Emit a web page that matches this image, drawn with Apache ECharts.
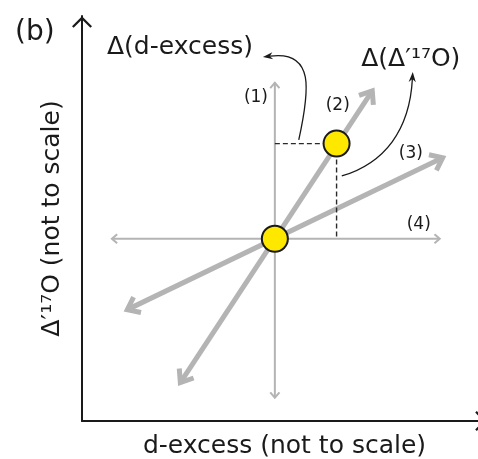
<!DOCTYPE html>
<html>
<head>
<meta charset="utf-8">
<script src="https://cdn.jsdelivr.net/npm/echarts@6/dist/echarts.min.js"></script>
<style>
  html, body { margin: 0; padding: 0; background: #ffffff; }
  #chart { width: 478px; height: 459px; }
</style>
</head>
<body>
<div id="chart"></div>
<script>
// Schematic space: d-excess runs -10..11, Δ′17O runs -9..11, start state at the origin.
const startPoint = [0, 0];
const shiftedPoint = [3.2, 4.7];

// Double-headed trajectory arrows, [x1, y1, x2, y2]
const thinArrows = [
  [0, -7.85, 0, 7.7],        // (1) Δ′17O only
  [-8.45, 0, 8.55, 0]        // (4) d-excess only
];
const thickArrows = [
  [-4.9, -7.1, 5.05, 7.3],   // (2)
  [-7.65, -3.5, 8.7, 4.0]    // (3)
];

// Dashed projections of the shifted state onto the two reference lines
const guides = [
  [0, 4.7, 3.2, 4.7],
  [3.2, 4.7, 3.2, 0]
];

// Cubic callouts: start, control 1, control 2, tip
const callouts = [
  [1.24, 4.88, 1.81, 7.35, 2.07, 9.32, -0.62, 8.97],
  [3.47, 3.10, 5.70, 3.74, 6.99, 5.37, 7.15, 8.23]
];

// Trajectory tags and callout titles
const tagTexts = ['(1)', '(2)', '(3)', '(4)'];
const tagAnchors = [[-0.98, 6.95], [3.26, 6.56], [7.05, 4.23], [7.46, 0.68]];
const calloutTexts = ['Δ(d-excess)', 'Δ(Δ′¹⁷O)'];
const calloutAnchors = [[-4.92, 9.42], [7.05, 8.83]];

const FONT = 'DejaVu Sans';
const INK = '#1a1a1a';
const GRAY = '#b4b4b4';
// open chevron used as the arrowhead of both axes
const AXIS_HEAD = 'path://M10,0 L20,10 L18.4,11.6 L10,3.2 L1.6,11.6 L0,10 Z';

function chevron(tip, from, len, ang) {
  const dx = tip[0] - from[0], dy = tip[1] - from[1];
  const d = Math.hypot(dx, dy);
  const bx = -dx / d, by = -dy / d;
  const c = Math.cos(ang), s = Math.sin(ang);
  return [
    [tip[0] + len * (bx * c - by * s), tip[1] + len * (bx * s + by * c)],
    [tip[0], tip[1]],
    [tip[0] + len * (bx * c + by * s), tip[1] + len * (-bx * s + by * c)]
  ];
}

function arrowSeries(data, width, headLen, headAng, z) {
  return {
    type: 'custom', data: data, silent: true, z: z, clip: false,
    renderItem: function (params, api) {
      const a = api.coord([api.value(0), api.value(1)]);
      const b = api.coord([api.value(2), api.value(3)]);
      const st = { stroke: GRAY, lineWidth: width, fill: null, lineJoin: 'miter', lineCap: 'butt' };
      return {
        type: 'group',
        children: [
          { type: 'line', shape: { x1: a[0], y1: a[1], x2: b[0], y2: b[1] }, style: st },
          { type: 'polyline', shape: { points: chevron(b, a, headLen, headAng) }, style: st },
          { type: 'polyline', shape: { points: chevron(a, b, headLen, headAng) }, style: st }
        ]
      };
    }
  };
}

function textSeries(anchors, texts, size, z) {
  return {
    type: 'custom', data: anchors, silent: true, z: z, clip: false,
    renderItem: function (params, api) {
      const p = api.coord([api.value(0), api.value(1)]);
      return {
        type: 'text', x: p[0], y: p[1],
        style: {
          text: texts[params.dataIndex], fill: INK,
          fontSize: size, fontFamily: FONT,
          align: 'center', verticalAlign: 'middle'
        }
      };
    }
  };
}

const chart = echarts.init(document.getElementById('chart'), null, { renderer: 'canvas' });

chart.setOption({
  animation: false,
  backgroundColor: '#ffffff',
  title: {
    text: '(b)', left: 10, top: 14,
    textStyle: { fontSize: 28, fontWeight: 'normal', fontFamily: FONT, color: INK }
  },
  grid: { left: 82, right: -9, top: 16, bottom: 38, containLabel: false, outerBoundsMode: 'none' },
  xAxis: {
    type: 'value', min: -10, max: 11,
    name: 'd-excess (not to scale)', nameLocation: 'middle', nameGap: 13,
    nameTextStyle: { fontSize: 25, fontFamily: FONT, color: INK },
    axisLine: {
      show: true, onZero: false,
      lineStyle: { color: INK, width: 2 },
      symbol: ['none', AXIS_HEAD], symbolSize: [20, 12], symbolOffset: [0, -6]
    },
    axisTick: { show: false }, axisLabel: { show: false }, splitLine: { show: false }
  },
  yAxis: {
    type: 'value', min: -9, max: 11,
    name: 'Δ′¹⁷O (not to scale)', nameLocation: 'middle', nameGap: 17,
    nameTextStyle: { fontSize: 25, fontFamily: FONT, color: INK },
    axisLine: {
      show: true, onZero: false,
      lineStyle: { color: INK, width: 2 },
      symbol: ['none', AXIS_HEAD], symbolSize: [20, 12], symbolOffset: [0, -6]
    },
    axisTick: { show: false }, axisLabel: { show: false }, splitLine: { show: false }
  },
  series: [
    arrowSeries(thinArrows, 2, 7, 0.72, 1),
    arrowSeries(thickArrows, 5, 14, 0.66, 1),
    {
      type: 'custom', data: guides, silent: true, z: 2, clip: false,
      renderItem: function (params, api) {
        const a = api.coord([api.value(0), api.value(1)]);
        const b = api.coord([api.value(2), api.value(3)]);
        return {
          type: 'line', shape: { x1: a[0], y1: a[1], x2: b[0], y2: b[1] },
          style: { stroke: '#2a2a2a', lineWidth: 1.4, lineDash: [5, 3], fill: null }
        };
      }
    },
    {
      type: 'scatter', data: [startPoint, shiftedPoint], z: 3, silent: true,
      symbol: 'circle', symbolSize: 26,
      itemStyle: { color: '#FFE800', borderColor: INK, borderWidth: 2, opacity: 1 }
    },
    {
      type: 'custom', data: callouts, silent: true, z: 4, clip: false,
      renderItem: function (params, api) {
        const p = [0, 1, 2, 3].map(function (i) {
          return api.coord([api.value(2 * i), api.value(2 * i + 1)]);
        });
        const tip = p[3];
        const dx = tip[0] - p[2][0], dy = tip[1] - p[2][1];
        const d = Math.hypot(dx, dy);
        const ux = dx / d, uy = dy / d;
        const nx = -uy, ny = ux;
        const L = 10, W = 3.6, notch = 7;
        const head = [
          [tip[0], tip[1]],
          [tip[0] - L * ux + W * nx, tip[1] - L * uy + W * ny],
          [tip[0] - notch * ux, tip[1] - notch * uy],
          [tip[0] - L * ux - W * nx, tip[1] - L * uy - W * ny]
        ];
        const end = [tip[0] - notch * ux, tip[1] - notch * uy];
        return {
          type: 'group',
          children: [
            {
              type: 'bezierCurve',
              shape: {
                x1: p[0][0], y1: p[0][1],
                cpx1: p[1][0], cpy1: p[1][1],
                cpx2: p[2][0], cpy2: p[2][1],
                x2: end[0], y2: end[1]
              },
              style: { stroke: INK, lineWidth: 1.3, fill: null }
            },
            { type: 'polygon', shape: { points: head }, style: { fill: INK } }
          ]
        };
      }
    },
    textSeries(tagAnchors, tagTexts, 17, 5),
    textSeries(calloutAnchors, calloutTexts, 25, 5)
  ]
});
</script>
</body>
</html>
